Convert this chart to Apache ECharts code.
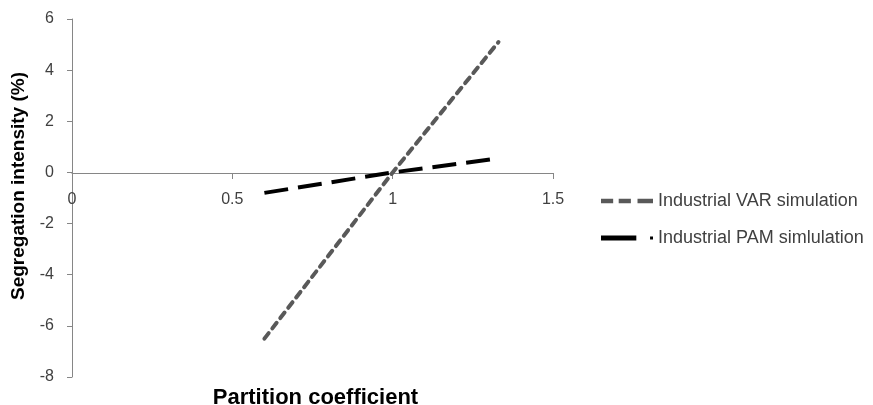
<!DOCTYPE html>
<html><head><meta charset="utf-8">
<script src="https://cdn.jsdelivr.net/npm/echarts@6/dist/echarts.min.js"></script>
<style>html,body{margin:0;padding:0;background:#fff}#c{width:873px;height:405px}</style>
</head><body><div id="c"></div>
<script>
const varX = [0.6, 1.0, 1.33];
const varY = [-6.5, 0, 5.1];
const pamX = [0.6, 1.0, 1.33];
const pamY = [-0.8, 0, 0.55];
const seriesNames = ['Industrial VAR simulation', 'Industrial PAM simlulation'];
const xTitle = 'Partition coefficient';
const yTitle = 'Segregation intensity (%)';

const chart = echarts.init(document.getElementById('c'), null, {renderer:'canvas'});
const labelStyle = {color:'#404040', fontFamily:'Liberation Sans', fontSize:16};
const varIcon = 'path://M0,0h11v4h-11z M16,0h11v4h-11z M33,0h14v4h-14z';
const pamIcon = 'path://M0,0h36v5h-36z M50,1h3v3h-3z';
chart.setOption({
  animation:false,
  grid:{left:72, right:320, top:19, bottom:28, containLabel:false, outerBoundsMode:'none'},
  legend:{
    orient:'vertical', left:596, top:187, itemWidth:52, itemHeight:5, itemGap:19,
    textStyle:{color:'#404040', fontFamily:'Liberation Sans', fontSize:18},
    data:[{name:seriesNames[0], icon:varIcon}, {name:seriesNames[1], icon:pamIcon}]
  },
  xAxis:{
    type:'value', min:0, max:1.5, interval:0.5,
    axisLine:{onZero:false, lineStyle:{color:'#868686', width:1}},
    offset:-204,
    axisTick:{show:true, length:6, lineStyle:{color:'#868686'}},
    axisLabel:Object.assign({margin:19}, labelStyle),
    splitLine:{show:false},
    name:xTitle, nameLocation:'middle', nameGap:214,
    nameTextStyle:{fontFamily:'Liberation Sans', fontSize:22, fontWeight:'bold', color:'#000', padding:[0,0,0,6]}
  },
  yAxis:{
    type:'value', min:-8, max:6, interval:2,
    axisLine:{show:true, lineStyle:{color:'#868686', width:1}},
    axisTick:{show:true, length:5, lineStyle:{color:'#868686'}},
    axisLabel:Object.assign({margin:18}, labelStyle),
    splitLine:{show:false},
    name:yTitle, nameLocation:'middle', nameGap:44, nameRotate:90,
    nameTextStyle:{fontFamily:'Liberation Sans', fontSize:19, fontWeight:'bold', color:'#000', padding:[0,0,0,24]}
  },
  series:[
    {name:seriesNames[0], type:'line', symbol:'none', data:varX.map((x,i)=>[x,varY[i]]),
     lineStyle:{color:'#595959', width:4, type:[7,6], cap:'round'}, itemStyle:{color:'#595959'}},
    {name:seriesNames[1], type:'line', symbol:'none', data:pamX.map((x,i)=>[x,pamY[i]]),
     lineStyle:{color:'#000', width:4, type:[24,10], cap:'butt'}, itemStyle:{color:'#000'}}
  ]
});
</script></body></html>
